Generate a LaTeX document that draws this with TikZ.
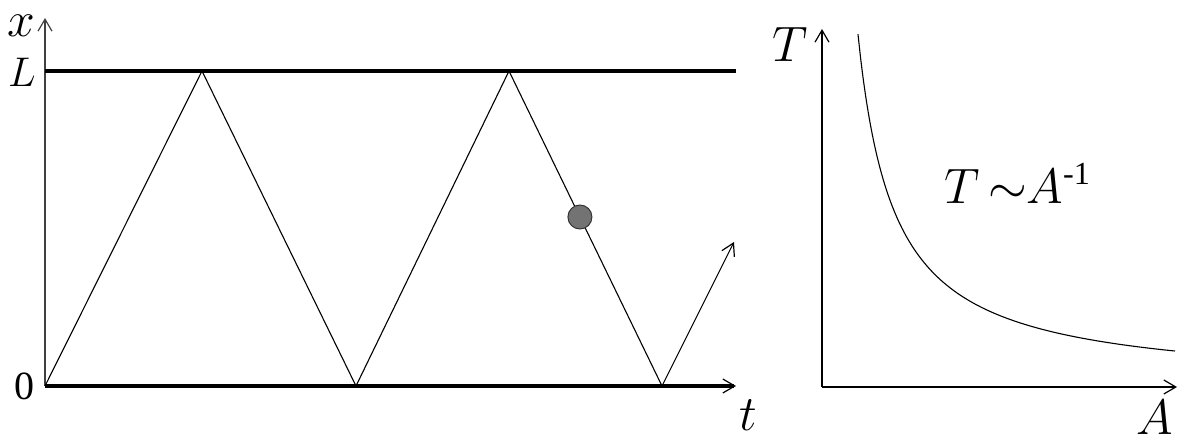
\documentclass[tikz,border=0pt]{standalone}
\usepackage{fontspec}
\setmainfont{Liberation Serif}
\usetikzlibrary{arrows.meta,calc}
\begin{document}
\begin{tikzpicture}[x=0.5pt,y=-0.5pt,
  thickline/.style={line width=2pt},
  thinline/.style={line width=0.55pt},
  tip/.style={-{Straight Barb[line width=0.6pt,length=6pt,width=7pt]}},
  lbl/.style={inner sep=0pt,anchor=center},
  ball/.style={circle,draw=black!80,line width=0.5pt,fill=black!55,minimum size=12pt,inner sep=0pt}]
\useasboundingbox (0,0) rectangle (1180,439);
% left plot
\coordinate (o1) at (45,386);
\coordinate (ytop) at (45,18);
\coordinate (Lstart) at (45,71);
\coordinate (Lend) at (736,71);
\coordinate (tend) at (736,386);
\coordinate (p0) at (45,386);
\coordinate (p1) at (202,71);
\coordinate (p2) at (356,386);
\coordinate (p3) at (509,71);
\coordinate (p4) at (662,386);
\coordinate (p5) at (734,242);
\draw[thinline,black!75,tip] (o1) -- (ytop);
\draw[thickline] (Lstart) -- (Lend);
\draw[thickline,tip] (o1) -- (tend);
\draw[thinline] (p0) -- (p1) -- (p2) -- (p3) -- (p4);
\draw[thinline,tip] (p4) -- (p5);
\node[ball] (b) at ($(p3)!0.4635!(p4)$) {};
\node[lbl,font=\fontsize{23pt}{23pt}\selectfont] (xl) at (21,26) {$x$};
\node[lbl,font=\fontsize{20.74pt}{20.74pt}\selectfont] (Ll) at (22,72) {$L$};
\node[lbl,font=\fontsize{20pt}{20pt}\selectfont] (zl) at (25,386) {0};
\node[lbl,font=\fontsize{23pt}{23pt}\selectfont] (tl) at (748,415) {$t$};
% right plot
\coordinate (o2) at (822,387);
\coordinate (Ttop) at (822,29);
\coordinate (Aend) at (1177,387);
\draw[thinline,tip] (o2) -- (Ttop);
\draw[thinline,tip] (o2) -- (Aend);
\draw[thinline] plot[domain=36:353,samples=120,smooth] ({822+\x},{387-12700/\x});
\node[lbl,font=\fontsize{23pt}{23pt}\selectfont] (Tl) at (790,44) {$T$};
\node[lbl,font=\fontsize{24pt}{24pt}\selectfont] (Al) at (1155,417) {$A$};
\node[lbl,font=\fontsize{23pt}{23pt}\selectfont,anchor=base west] (rel) at (944,203) {$T\,{\sim}A$\textsuperscript{-1}};
\end{tikzpicture}
\end{document}
